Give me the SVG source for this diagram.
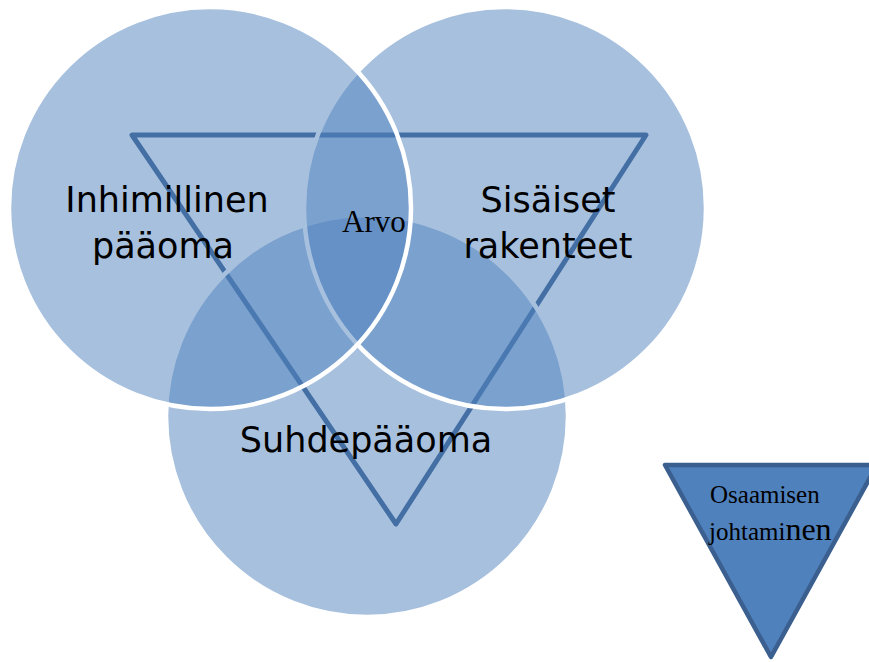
<svg xmlns="http://www.w3.org/2000/svg" width="869" height="662" viewBox="0 0 869 662">
<style>
.c{fill:#4F81BD;fill-opacity:0.5;stroke:#FFFFFF;stroke-width:4.5}
.lbl{font-family:"DejaVu Sans",sans-serif;font-size:35px;fill:#000;text-anchor:middle}
.ser{font-family:"Liberation Serif","Times New Roman",serif;fill:#000}
</style>
<rect width="869" height="662" fill="#FFFFFF"/>
<g id="value-triangle">
<polygon points="132,135 646,135 396,524" fill="none" stroke="#385D8A" stroke-width="5" stroke-linejoin="round"/>
</g>
<g id="suhdepaaoma">
<circle class="c" cx="367" cy="416" r="201"/>
<text class="lbl" x="366" y="452">Suhdepääoma</text>
</g>
<g id="sisaiset-rakenteet">
<circle class="c" cx="505" cy="208" r="201"/>
<text class="lbl" x="548" y="212">Sisäiset</text>
<text class="lbl" x="548" y="258">rakenteet</text>
</g>
<g id="inhimillinen-paaoma">
<circle class="c" cx="210" cy="208" r="201"/>
<text class="lbl" x="167" y="212">Inhimillinen</text>
<text class="lbl" x="163" y="258">pääoma</text>
</g>
<g id="arvo">
<text class="ser" x="342" y="232" font-size="31">Arvo</text>
</g>
<g id="osaamisen-johtaminen">
<polygon points="665,465 877,465 771,657" fill="#4F81BD" stroke="#3B5F8E" stroke-width="4.5" stroke-linejoin="round"/>
<text class="ser" x="710" y="503" font-size="25">Osaamisen</text>
<text class="ser" x="709" y="540" font-size="25">johtami<tspan font-size="32">nen</tspan></text>
</g>
</svg>
